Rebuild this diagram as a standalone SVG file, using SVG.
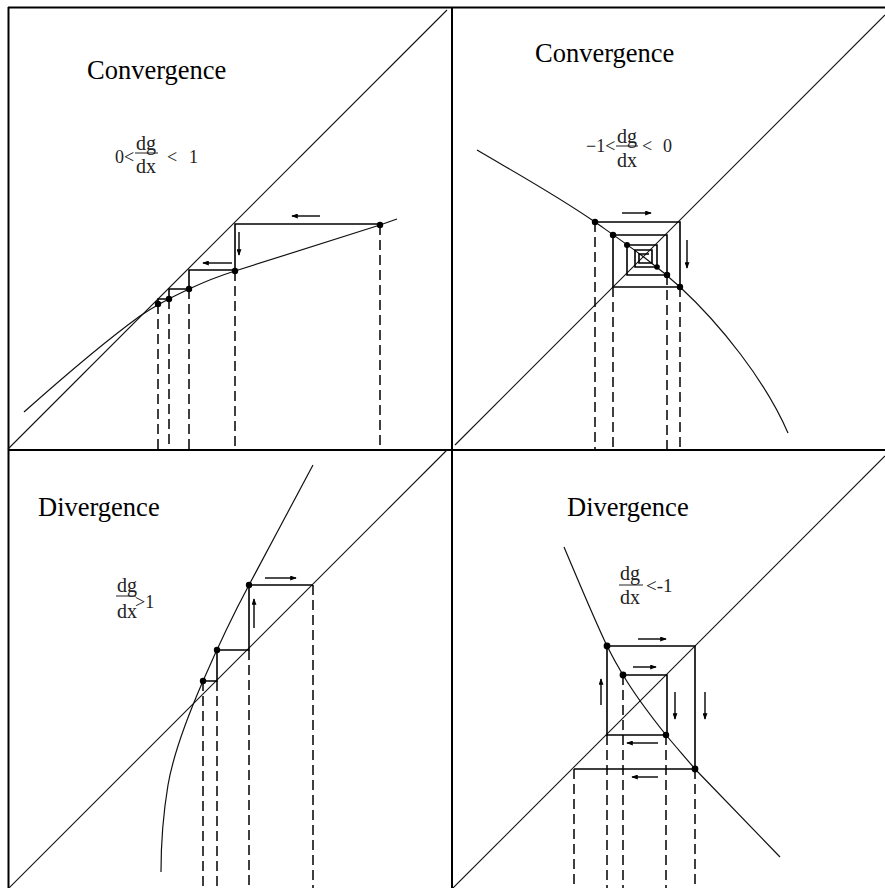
<svg xmlns="http://www.w3.org/2000/svg" width="885" height="888" viewBox="0 0 885 888">
<defs>
<marker id="ah" viewBox="0 0 8 6" refX="7" refY="3" markerWidth="7" markerHeight="5" markerUnits="userSpaceOnUse" orient="auto">
<path d="M0,0 L8,3 L0,6 z" fill="#000"/>
</marker>
</defs>
<style>
.frame{stroke:#000;stroke-width:2;fill:none}
.diag{stroke:#111;stroke-width:1.1;fill:none}
.curve{stroke:#111;stroke-width:1.2;fill:none}
.web{stroke:#000;stroke-width:1.6;fill:none}
.dash{stroke:#000;stroke-width:1.5;stroke-dasharray:10 5;fill:none}
.arr{stroke:#000;stroke-width:1.4;fill:none;marker-end:url(#ah)}
.dot{fill:#000}
.title{font-family:"Liberation Serif","Times New Roman",serif;font-size:26.5px;fill:#000}
.math{font-family:"Liberation Serif","Times New Roman",serif;font-size:18px;fill:#222}
.frac{font-family:"Liberation Serif","Times New Roman",serif;font-size:20px;fill:#222}
.bar{stroke:#222;stroke-width:1}
</style>
<rect width="885" height="888" fill="#fff"/>
<g id="frame">
<line class="frame" x1="8" y1="7.5" x2="885" y2="7.5"/>
<line class="frame" x1="8.5" y1="7" x2="8.5" y2="888"/>
<line class="frame" x1="452" y1="7" x2="452" y2="888"/>
<line class="frame" x1="8" y1="450" x2="885" y2="450"/>
</g>

<g id="panel-tl">
<line class="diag" x1="8" y1="449" x2="447" y2="10"/>
<path class="curve" d="M24,412 C60,380 100,345 140,316 C156,305 172,297 189,289 C204,282 219,276 235,271 C285,255 335,239 380,225 L397,219"/>
<g class="dashes">
<line class="dash" x1="158" y1="304" x2="158" y2="449"/>
<line class="dash" x1="169" y1="299" x2="169" y2="449"/>
<line class="dash" x1="189" y1="289" x2="189" y2="449"/>
<line class="dash" x1="235" y1="271" x2="235" y2="449"/>
<line class="dash" x1="380" y1="225" x2="380" y2="449"/>
</g>
<path class="web" d="M380,224 H235 V270 H189 V289 H169 V299 H158 V304"/>
<line class="arr" x1="320" y1="216" x2="292" y2="216"/>
<line class="arr" x1="239" y1="232" x2="239" y2="255"/>
<line class="arr" x1="232" y1="263" x2="203" y2="263"/>
<circle class="dot" cx="380" cy="225" r="3.2"/>
<circle class="dot" cx="235" cy="271" r="3.2"/>
<circle class="dot" cx="189" cy="289" r="3.2"/>
<circle class="dot" cx="169" cy="299" r="3.2"/>
<circle class="dot" cx="158" cy="304" r="3.2"/>
<text class="title" x="87" y="79">Convergence</text>
<text class="math" x="115" y="163">0&lt;</text>
<text class="frac" x="136" y="150">dg</text>
<line class="bar" x1="135" y1="153" x2="158" y2="153"/>
<text class="frac" x="136" y="173">dx</text>
<text class="math" x="167" y="163">&lt;</text>
<text class="math" x="189" y="163">1</text>
</g>

<g id="panel-tr">
<line class="diag" x1="455" y1="445" x2="885" y2="15"/>
<path class="curve" d="M477,150 C516,173 556,195 595,222 C612,234 628,245 645,258 C657,267 668,276 680,287 C720,324 765,380 788,433"/>
<line class="dash" x1="595" y1="222" x2="595" y2="449"/>
<line class="dash" x1="613" y1="287" x2="613" y2="449"/>
<line class="dash" x1="667" y1="275" x2="667" y2="449"/>
<line class="dash" x1="680" y1="287" x2="680" y2="449"/>
<path class="web" d="M595,222 H680 V287 H613 V235 H667 V275 H627 V245 H657 V267 H635 V250 H652 V263 H639 V254 H649"/>
<line class="arr" x1="622" y1="213" x2="651" y2="213"/>
<line class="arr" x1="687" y1="240" x2="687" y2="268"/>
<circle class="dot" cx="595" cy="222" r="3.2"/>
<circle class="dot" cx="613" cy="235" r="3.2"/>
<circle class="dot" cx="627" cy="245" r="3"/>
<circle class="dot" cx="657" cy="267" r="2.8"/>
<circle class="dot" cx="667" cy="275" r="3.2"/>
<circle class="dot" cx="680" cy="287" r="3.2"/>
<text class="title" x="535" y="62">Convergence</text>
<text class="math" x="586" y="152">−1&lt;</text>
<text class="frac" x="617" y="143">dg</text>
<line class="bar" x1="616" y1="146" x2="638" y2="146"/>
<text class="frac" x="617" y="167">dx</text>
<text class="math" x="642" y="152">&lt;</text>
<text class="math" x="663" y="152">0</text>
</g>

<g id="panel-bl">
<line class="diag" x1="8" y1="889" x2="447" y2="450"/>
<path class="curve" d="M313,465 C292,505 270,545 249,585 C234,613 213,658 203,681 C193,704 174,750 168,785 C163,815 161,845 161,872"/>
<line class="dash" x1="203" y1="681" x2="203" y2="888"/>
<line class="dash" x1="217" y1="681" x2="217" y2="888"/>
<line class="dash" x1="249" y1="650" x2="249" y2="888"/>
<line class="dash" x1="313" y1="585" x2="313" y2="888"/>
<path class="web" d="M203,681 H217 V650 H249 V585 H313"/>
<line class="arr" x1="265" y1="578" x2="296" y2="578"/>
<line class="arr" x1="254" y1="628" x2="254" y2="599"/>
<circle class="dot" cx="203" cy="681" r="3.2"/>
<circle class="dot" cx="217" cy="650" r="3.2"/>
<circle class="dot" cx="249" cy="585" r="3.2"/>
<text class="title" x="38" y="515.5">Divergence</text>
<text class="frac" x="117" y="592">dg</text>
<line class="bar" x1="116" y1="596" x2="136" y2="596"/>
<text class="frac" x="117" y="618">dx</text>
<text class="math" x="135" y="608">&gt;1</text>
</g>

<g id="panel-br">
<line class="diag" x1="453" y1="888" x2="885" y2="456"/>
<path class="curve" d="M564,547 C578,580 592,614 607,646 C612,656 617,665 623,675 C635,695 650,715 666,735 C676,747 684,756 695,769 C725,800 752,828 780,857"/>
<line class="dash" x1="574" y1="769" x2="574" y2="888"/>
<line class="dash" x1="607" y1="735" x2="607" y2="888"/>
<line class="dash" x1="623" y1="675" x2="623" y2="888"/>
<line class="dash" x1="666" y1="735" x2="666" y2="888"/>
<line class="dash" x1="695" y1="769" x2="695" y2="888"/>
<path class="web" d="M623,675 H667 V735 H607 V646 H695 V769 H574"/>
<line class="arr" x1="638" y1="639" x2="666" y2="639"/>
<line class="arr" x1="633" y1="667" x2="656" y2="667"/>
<line class="arr" x1="601" y1="705" x2="601" y2="679"/>
<line class="arr" x1="675" y1="692" x2="675" y2="719"/>
<line class="arr" x1="705" y1="692" x2="705" y2="719"/>
<line class="arr" x1="658" y1="743" x2="627" y2="743"/>
<line class="arr" x1="658" y1="777" x2="632" y2="777"/>
<circle class="dot" cx="607" cy="646" r="3.4"/>
<circle class="dot" cx="623" cy="675" r="3.4"/>
<circle class="dot" cx="666" cy="735" r="3.2"/>
<circle class="dot" cx="695" cy="769" r="3.4"/>
<text class="title" x="567" y="516">Divergence</text>
<text class="frac" x="620" y="580">dg</text>
<line class="bar" x1="619" y1="585" x2="643" y2="585"/>
<text class="frac" x="620" y="604">dx</text>
<text class="math" x="646" y="592" style="font-size:19px">&lt;-1</text>
</g>
</svg>
